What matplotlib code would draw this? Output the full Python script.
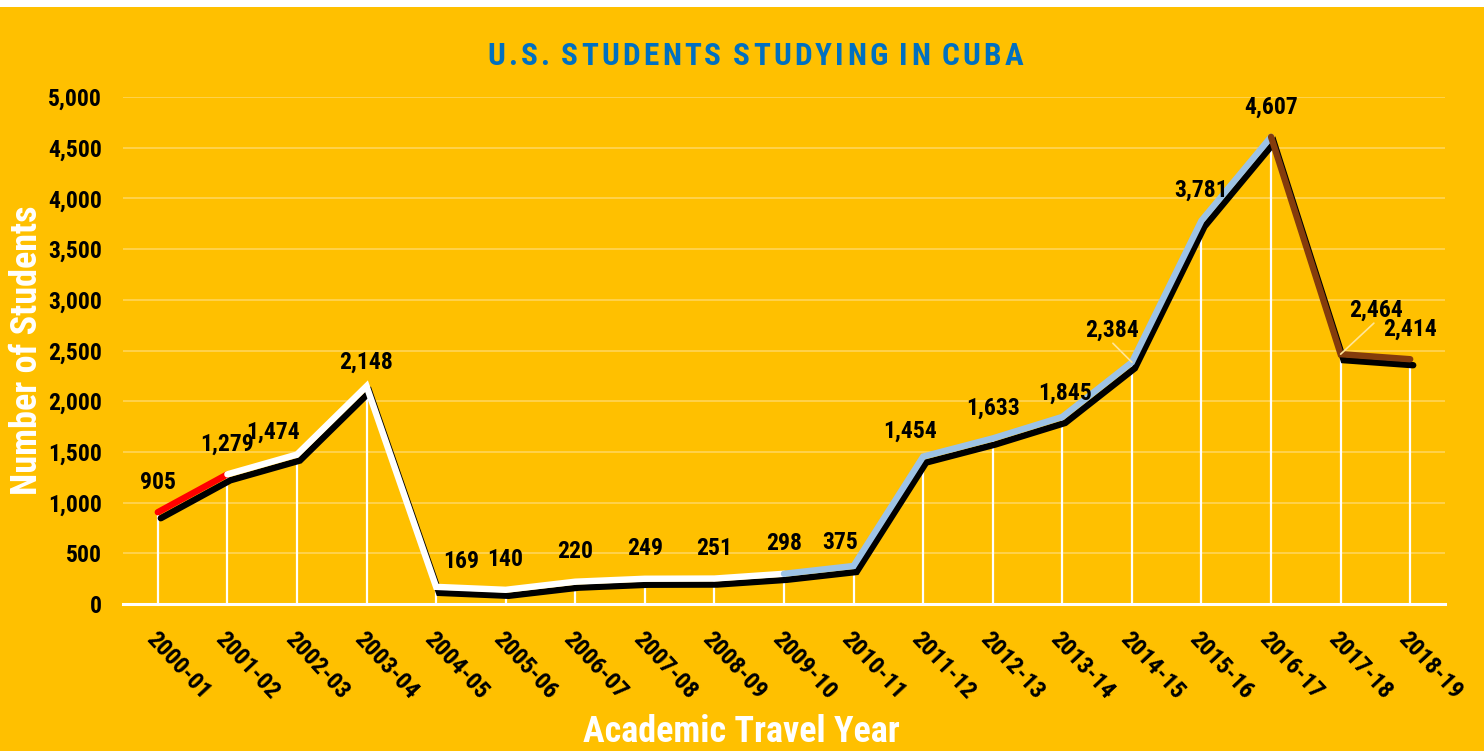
import matplotlib.pyplot as plt
from matplotlib.transforms import offset_copy

# data
years = ["2000-01", "2001-02", "2002-03", "2003-04", "2004-05", "2005-06",
         "2006-07", "2007-08", "2008-09", "2009-10", "2010-11", "2011-12",
         "2012-13", "2013-14", "2014-15", "2015-16", "2016-17", "2017-18",
         "2018-19"]
students = [905, 1279, 1474, 2148, 169, 140, 220, 249, 251, 298, 375, 1454,
            1633, 1845, 2384, 3781, 4607, 2464, 2414]

# colour pieces of the line: (start index, end index, colour)
segments = [(0, 1, "#FF0000"), (1, 9, "#FFFFFF"), (9, 16, "#9DC3E6"),
            (16, 18, "#843C0C")]

title = "U.S. STUDENTS STUDYING IN CUBA"

BG = "#FFC000"
W, H = 1484, 751
plt.rcParams["font.family"] = ["Roboto Condensed", "DejaVu Sans"]
plt.rcParams["font.weight"] = "bold"

fig = plt.figure(figsize=(W / 100, H / 100), dpi=100)
fig.patch.set_facecolor("white")
# orange panel, thin white strip at the top
fig.patches.append(plt.Rectangle((0, 0), 1, 1 - 7 / H, transform=fig.transFigure,
                                 facecolor=BG, edgecolor="none", zorder=-10))

ax = fig.add_axes([123 / W, 1 - 604 / H, (1445 - 123) / W, (604 - 97) / H])
ax.set_facecolor("none")
x = list(range(len(years)))

# drop lines
ax.vlines(x, 0, students, color="white", lw=1.6, zorder=2)

# shadow under the line
shadow = offset_copy(ax.transData, fig=fig, x=3, y=-6, units="dots")
ax.plot(x, students, color="black", lw=4.6, solid_capstyle="round",
        solid_joinstyle="miter", transform=shadow, zorder=3)

for i0, i1, col in segments:
    ax.plot(x[i0:i1 + 1], students[i0:i1 + 1], color=col, lw=4.6,
            solid_capstyle="round", solid_joinstyle="miter", zorder=4)

# data labels (offsets in pixels, default straight above)
offsets = {2: (-24, 22), 3: (0, 24), 4: (25, 25), 10: (-13, 23), 11: (-13, 25),
           13: (3, 24), 14: (-20, 32), 17: (35, 44)}
leaders = {14, 17}
for i, v in enumerate(students):
    dx, dy = offsets.get(i, (0, 30))
    ax.annotate(f"{v:,}", (i, v), xytext=(dx, dy), textcoords="offset pixels",
                ha="center", va="center", fontsize=17, fontweight="bold",
                color="black", zorder=6)
    if i in leaders:
        ax.annotate("", (i, v), xytext=(dx * 0.95, dy - 13), textcoords="offset pixels",
                    arrowprops=dict(arrowstyle="-", color="#FFE699", lw=1.2,
                                    shrinkA=0, shrinkB=0),
                    zorder=5)

ax.set_xlim(-0.5, len(years) - 0.5)
ax.set_ylim(0, 5000)
ax.set_yticks(range(0, 5001, 500))
ax.set_yticklabels([f"{t:,}" for t in range(0, 5001, 500)])
ax.grid(axis="y", color="#FFD55A", lw=1.2)
ax.set_axisbelow(True)
for s in ["top", "right", "left"]:
    ax.spines[s].set_visible(False)
ax.spines["bottom"].set_color("white")
ax.spines["bottom"].set_linewidth(2.2)
ax.spines["bottom"].set_zorder(5)
ax.tick_params(axis="y", length=0, pad=15, labelsize=17)
ax.tick_params(axis="x", length=0, pad=17, labelsize=17.5)
ax.set_xticks(x)
ax.set_xticklabels(years, rotation=-47, ha="left", va="top",
                   rotation_mode="anchor", fontweight="bold")

# title with letter spacing: place each glyph so the line spans 487..1023 px
renderer = fig.canvas.get_renderer()
tkw = dict(color="#0070C0", fontsize=22.5, fontweight="bold", va="baseline", ha="left")
left_px, right_px, base_px = 487, 1023, 65
space_w = 5
widths = []
for ch in title:
    if ch == " ":
        widths.append(space_w)
    else:
        t = fig.text(0, 0, ch, **tkw)
        widths.append(t.get_window_extent(renderer).width)
        t.remove()
gap = (right_px - left_px - sum(widths)) / (len(title) - 1)
cur = left_px
for ch, w in zip(title, widths):
    if ch != " ":
        fig.text(cur / W, 1 - base_px / H, ch, **tkw)
    cur += w + gap

fig.text(27 / W, 1 - 350 / H, "Number of Students", rotation=90,
         ha="center", va="center", color="white", fontsize=26, fontweight="bold")
fig.text(741 / W, 1 - 732 / H, "Academic Travel Year", ha="center",
         va="center", color="white", fontsize=26, fontweight="bold")

fig.savefig("out.png", dpi=100, facecolor=fig.get_facecolor())
